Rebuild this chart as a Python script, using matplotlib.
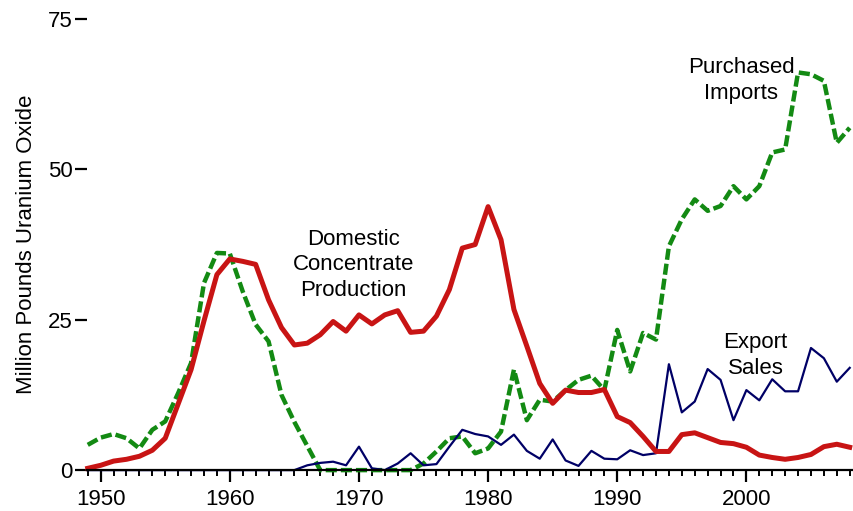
import matplotlib
matplotlib.use("Agg")
import matplotlib.pyplot as plt
from matplotlib.ticker import MultipleLocator

plt.rcParams['font.family'] = ['Liberation Sans', 'DejaVu Sans']

years = list(range(1949, 2009))

# Domestic concentrate production, million lb U3O8
production = [0.3, 0.8, 1.5, 1.8, 2.3, 3.3, 5.3, 11.0, 16.7, 24.8, 32.5, 35.1,
              34.7, 34.2, 28.3, 23.7, 20.8, 21.1, 22.5, 24.7, 23.1, 25.8, 24.3,
              25.8, 26.5, 22.9, 23.1, 25.6, 30.0, 36.9, 37.5, 43.8, 38.3, 26.7,
              20.6, 14.4, 11.1, 13.3, 12.9, 12.9, 13.4, 8.9, 7.9, 5.6, 3.1, 3.1,
              5.9, 6.2, 5.4, 4.6, 4.4, 3.8, 2.5, 2.1, 1.8, 2.1, 2.6, 3.9, 4.3, 3.8]

# Purchased imports
imports = [4.2, 5.4, 6.0, 5.3, 3.6, 6.7, 8.1, 12.8, 17.8, 31.1, 36.1, 36.0,
           29.7, 24.2, 21.4, 12.5, 8.0, 4.0, 0.0, 0.0, 0.0, 0.0, 0.0, 0.0, 0.0,
           0.0, 1.1, 3.1, 5.3, 5.6, 2.8, 3.6, 6.4, 16.7, 8.3, 11.7, 11.4, 13.3,
           15.0, 15.7, 13.3, 23.3, 16.4, 22.8, 21.7, 37.2, 41.7, 45.0, 43.1,
           43.9, 47.2, 45.0, 47.2, 52.8, 53.3, 66.1, 65.8, 64.7, 54.4, 56.9]

# Export sales
exports = [0.0, 0.0, 0.0, 0.0, 0.0, 0.0, 0.0, 0.0, 0.0, 0.0, 0.0, 0.0, 0.0,
           0.0, 0.0, 0.0, 0.0, 0.8, 1.2, 1.4, 0.8, 3.9, 0.3, 0.0, 1.1, 2.8,
           0.8, 1.0, 3.9, 6.7, 6.0, 5.6, 4.2, 5.9, 3.2, 1.9, 5.1, 1.6, 0.7,
           3.2, 1.9, 1.8, 3.3, 2.5, 2.8, 17.6, 9.6, 11.4, 16.8, 15.0, 8.3,
           13.3, 11.6, 15.1, 13.1, 13.1, 20.3, 18.6, 14.7, 17.0]

fig = plt.figure(figsize=(8.54, 5.11), dpi=100)
ax = fig.add_axes([0.102, 0.080, 0.896, 0.883])

ax.plot(years, imports, color='#138a13', lw=3.2, dashes=(2.5, 0.9), clip_on=False)
ax.plot(years, exports, color='#000066', lw=1.6, clip_on=False)
ax.plot(years, production, color='#c81414', lw=3.6, clip_on=False)

ax.set_xlim(1948.95, 2008.2)
ax.set_ylim(0, 75)

for side in ('top', 'right', 'left'):
    ax.spines[side].set_visible(False)
ax.spines['bottom'].set_linewidth(1.6)

ax.xaxis.set_major_locator(MultipleLocator(10))
ax.xaxis.set_minor_locator(MultipleLocator(1))
ax.yaxis.set_major_locator(MultipleLocator(25))
ax.tick_params(axis='x', which='major', length=8.5, width=1.6, labelsize=16, pad=5)
ax.tick_params(axis='x', which='minor', length=4.5, width=1.4)
ax.tick_params(axis='y', which='major', length=8.5, width=1.6, labelsize=16, pad=2)

ax.set_ylabel('Million Pounds Uranium Oxide', fontsize=16, labelpad=8)

ax.text(1969.6, 34.1, 'Domestic\nConcentrate\nProduction', ha='center', va='center',
        fontsize=16, linespacing=1.3)
ax.text(1999.6, 64.8, 'Purchased\nImports', ha='center', va='center',
        fontsize=16, linespacing=1.3)
ax.text(2000.7, 19.0, 'Export\nSales', ha='center', va='center',
        fontsize=16, linespacing=1.3)

fig.savefig('out.png', dpi=100)
